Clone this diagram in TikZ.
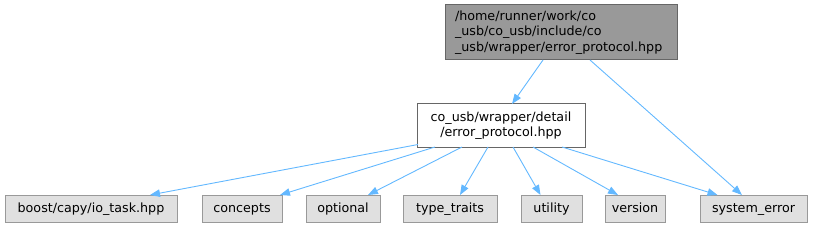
\documentclass[tikz,border=0pt]{standalone}
\usepackage{fontspec}
\setmainfont{DejaVu Sans}
\usetikzlibrary{arrows.meta}
\definecolor{edgeblue}{HTML}{63B8FF}
\definecolor{topfill}{HTML}{999999}
\definecolor{topdraw}{HTML}{666666}
\definecolor{leaffill}{HTML}{E0E0E0}
\definecolor{leafdraw}{HTML}{999999}
\tikzset{
  base/.style={inner sep=0pt, outer sep=0pt, line width=1pt, font=\fontsize{12.7}{15.5}\selectfont},
  topbox/.style={base, fill=topfill, draw=topdraw, align=left, text width=212pt, minimum width=232pt, minimum height=55pt},
  midbox/.style={base, fill=white, draw=topdraw, align=center, minimum width=168pt, minimum height=43pt},
  leaf/.style={base, fill=leaffill, draw=leafdraw, minimum height=27pt, text height=9.6pt, text depth=2.6pt},
  dep/.style={draw=edgeblue, line width=0.9pt, -{Triangle[length=10pt,width=7.5pt]}}
}
\begin{document}
\begin{tikzpicture}[x=1pt,y=-1pt]
\useasboundingbox (0,0) rectangle (813,227);
\node[topbox] (top) at (561,32.5) {/home/runner/work/co\\\_usb/co\_usb/include/co\\\_usb/wrapper/error\_protocol.hpp};
\node[midbox] (mid) at (501,125.5) {co\_usb/wrapper/detail\\/error\_protocol.hpp};
\node[leaf, minimum width=172pt] (boost) at (91,208.5) {boost/capy/io\_task.hpp};
\node[leaf, minimum width=80pt] (concepts) at (242,208.5) {concepts};
\node[leaf, minimum width=74pt] (optional) at (343,208.5) {optional};
\node[leaf, minimum width=94pt] (typetraits) at (450,208.5) {type\_traits};
\node[leaf, minimum width=61pt] (utility) at (551.5,208.5) {utility};
\node[leaf, minimum width=60pt] (version) at (635,208.5) {version};
\node[leaf, minimum width=107pt] (syserr) at (753.5,208.5) {system\_error};

\draw[dep] ([xshift=-18pt]top.south) -- ([xshift=11pt]mid.north);
\draw[dep] ([xshift=29pt]top.south) -- ([xshift=-11.5pt]syserr.north);
\draw[dep] ([xshift=1pt,yshift=2.5pt]mid.south west) -- ([xshift=59pt]boost.north);
\draw[dep] ([xshift=-66pt]mid.south) -- ([xshift=38pt]concepts.north);
\draw[dep] ([xshift=-39pt]mid.south) -- ([xshift=25pt]optional.north);
\draw[dep] ([xshift=-13pt]mid.south) -- ([xshift=10pt]typetraits.north);
\draw[dep] ([xshift=12pt]mid.south) -- ([xshift=-11pt]utility.north);
\draw[dep] ([xshift=32pt]mid.south) -- ([xshift=-17pt]version.north);
\draw[dep] ([xshift=61pt]mid.south) -- ([xshift=-36pt]syserr.north);
\end{tikzpicture}
\end{document}
